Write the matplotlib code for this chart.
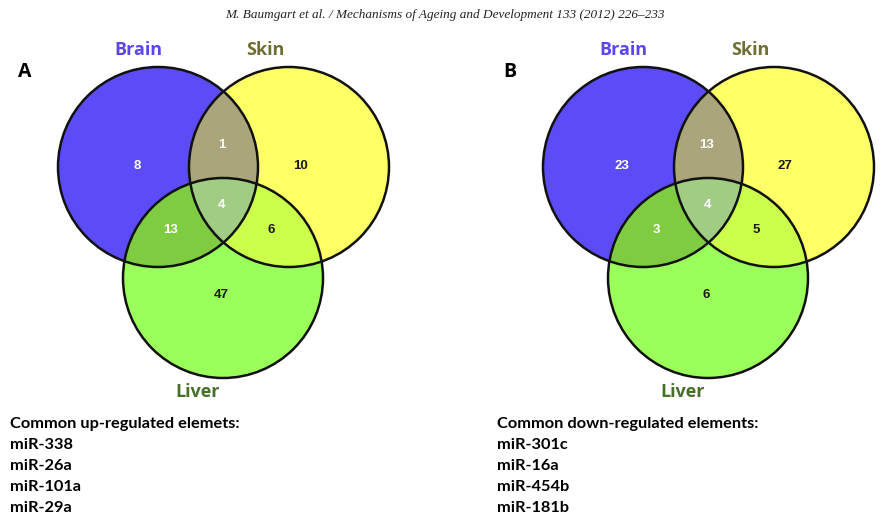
import numpy as np
import matplotlib
matplotlib.use("Agg")
from matplotlib import pyplot as plt
from matplotlib.patches import Circle

# region order: Brain only, Brain&Skin, Skin only, all three, Brain&Liver, Skin&Liver, Liver only
regions = ["B", "BS", "S", "BSL", "BL", "SL", "L"]
up_counts = [8, 1, 10, 4, 13, 6, 47]
down_counts = [23, 13, 27, 4, 3, 5, 6]

set_names = ["Brain", "Skin", "Liver"]
up_genes = ["miR-338", "miR-26a", "miR-101a", "miR-29a"]
down_genes = ["miR-301c", "miR-16a", "miR-454b", "miR-181b"]

# fill colour of every region
fills = {
    "B": (0.36, 0.30, 0.97),
    "S": (1.00, 1.00, 0.40),
    "L": (0.61, 1.00, 0.36),
    "BS": (0.67, 0.65, 0.48),
    "BL": (0.50, 0.80, 0.26),
    "SL": (0.80, 1.00, 0.30),
    "BSL": (0.63, 0.80, 0.52),
}
label_colors = ["#5a46ee", "#6e6e32", "#46702a"]
white_regions = {"B", "BS", "BSL", "BL"}

W, H = 885, 519
fig = plt.figure(figsize=(W / 100, H / 100), dpi=100)
ax = fig.add_axes([0, 0, 1, 1])
ax.set_xlim(0, W)
ax.set_ylim(H, 0)
ax.axis("off")

yy, xx = np.mgrid[0:H, 0:W] + 0.5
rgba = np.zeros((H, W, 4))


def venn(x0, counts, panel, header, genes, tx0):
    centers = [(x0 + 158, 167), (x0 + 289, 167), (x0 + 223, 278)]
    r = 100
    inside = [(xx - cx) ** 2 + (yy - cy) ** 2 <= r ** 2 for cx, cy in centers]
    for key in regions:
        want = ["B" in key, "S" in key, "L" in key]
        m = np.ones((H, W), bool)
        for flag, ins in zip(want, inside):
            m &= ins if flag else ~ins
        rgba[m, :3] = fills[key]
        rgba[m, 3] = 1.0
    for cx, cy in centers:
        ax.add_patch(Circle((cx, cy), r, fill=False, ec="#111111", lw=1.8, zorder=3))

    # counts inside each region
    spots = [(-21, -1), (64, -22), (142, -1), (64, 38), (13, 63), (113, 63), (63, 128)]
    for key, n, (dx, dy) in zip(regions, counts, spots):
        c = "white" if key in white_regions else "#1a1a1a"
        ax.text(x0 + 158 + dx, 167 + dy, str(n), color=c, fontsize=9.5,
                fontweight="bold", ha="center", va="center", zorder=4,
                family="Liberation Sans")

    # set names
    name_pos = [(x0 + 138, 50), (x0 + 265, 50), (x0 + 198, 392)]
    for name, (tx, ty), col in zip(set_names, name_pos, label_colors):
        ax.text(tx, ty, name, color=col, fontsize=13, fontweight="bold",
                ha="center", va="center", family="Open Sans")
    ax.text(x0 + 25, 72, panel, fontsize=14, fontweight="bold",
            ha="center", va="center", family="Open Sans")

    ax.text(tx0, 424, header, fontsize=11.8, fontweight="bold",
            ha="left", va="center", family="Lato")
    for i, g in enumerate(genes):
        ax.text(tx0, 445 + 21 * i, g, fontsize=11.8, fontweight="bold",
                ha="left", va="center", family="Lato")


venn(0, up_counts, "A", "Common up-regulated elemets:", up_genes, 10)
venn(485, down_counts, "B", "Common down-regulated elements:", down_genes, 497)

ax.imshow(rgba, extent=(0, W, H, 0), zorder=1, interpolation="bilinear")
ax.set_xlim(0, W)
ax.set_ylim(H, 0)

ax.text(445, 15, "M. Baumgart et al. / Mechanisms of Ageing and Development 133 (2012) 226\u2013233",
        fontsize=9.5, style="italic", ha="center", va="center",
        family="Liberation Serif", color="#222222")

fig.savefig("out.png", dpi=100)
